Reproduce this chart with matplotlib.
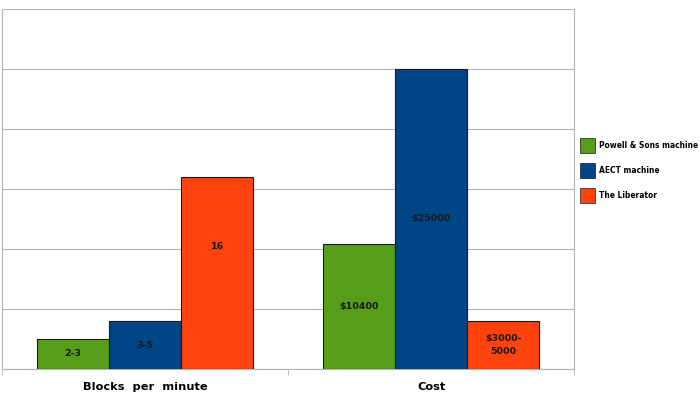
import numpy as np
import matplotlib
matplotlib.use('Agg')
import matplotlib.pyplot as plt
from matplotlib.patches import Rectangle

categories = ['Blocks  per  minute', 'Cost']
series_names = ['Powell & Sons machine', 'AECT machine', 'The Liberator']
# bar heights per series (blocks/min ; cost in $1000)
powell = [2.5, 10.4]
aect = [4, 25]
liberator = [16, 4]
powell_labels = ['2-3', '$10400']
aect_labels = ['3-5', '$25000']
liberator_labels = ['16', '$3000-\n5000']
colors = ['#579d1c', '#004586', '#ff420e']

plt.rcParams['font.family'] = 'DejaVu Sans'

W, H = 700, 399
fig = plt.figure(figsize=(7, 3.99), dpi=100)
ax = fig.add_axes([2/W, 1 - 369/H, 572/W, 360/H])

x = np.arange(len(categories))
width = 0.252
all_vals = [powell, aect, liberator]
all_labels = [powell_labels, aect_labels, liberator_labels]
for i in range(3):
    pos = x + (i - 1) * width
    ax.bar(pos, all_vals[i], width, color=colors[i], edgecolor='#1a1a1a',
           linewidth=0.8, label=series_names[i], zorder=3)
    for p, v, t in zip(pos, all_vals[i], all_labels[i]):
        frac = 0.5
        if t == '16':
            frac = 0.64  # label sits a bit higher in the original
        ax.text(p, v * frac, t, ha='center', va='center', fontsize=6.8,
                fontweight='bold', color='#1a1a1a', zorder=4, linespacing=1.5)

ax.set_xlim(-0.5, 1.5)
ax.set_ylim(0, 30)
ax.set_yticks(np.arange(0, 31, 5))
ax.set_yticklabels([])
ax.tick_params(axis='y', length=0)
ax.grid(axis='y', color='#b3b3b3', linewidth=0.8, zorder=0)

ax.set_xticks(x)
ax.set_xticklabels(categories, fontsize=8.2, fontweight='bold')
ax.tick_params(axis='x', length=0, pad=9)
ax.set_xticks([-0.5, 0.5, 1.5], minor=True)
ax.tick_params(axis='x', which='minor', length=4, color='#b3b3b3')

for s in ['left', 'right', 'bottom']:
    ax.spines[s].set_color('#b3b3b3')
    ax.spines[s].set_linewidth(0.8)
ax.spines['top'].set_visible(False)

# legend drawn by hand, square swatches like the original
for i in range(3):
    top = 138 + 25 * i
    fig.patches.append(Rectangle((580/W, 1 - (top + 15)/H), 15/W, 15/H,
                                 transform=fig.transFigure, facecolor=colors[i],
                                 edgecolor='#1a1a1a', linewidth=0.5))
    fig.text(599/W, 1 - (top + 7.5)/H, series_names[i], ha='left', va='center',
             fontsize=6.0, fontweight='bold', fontstretch='condensed')

fig.savefig('out.png', dpi=100)
